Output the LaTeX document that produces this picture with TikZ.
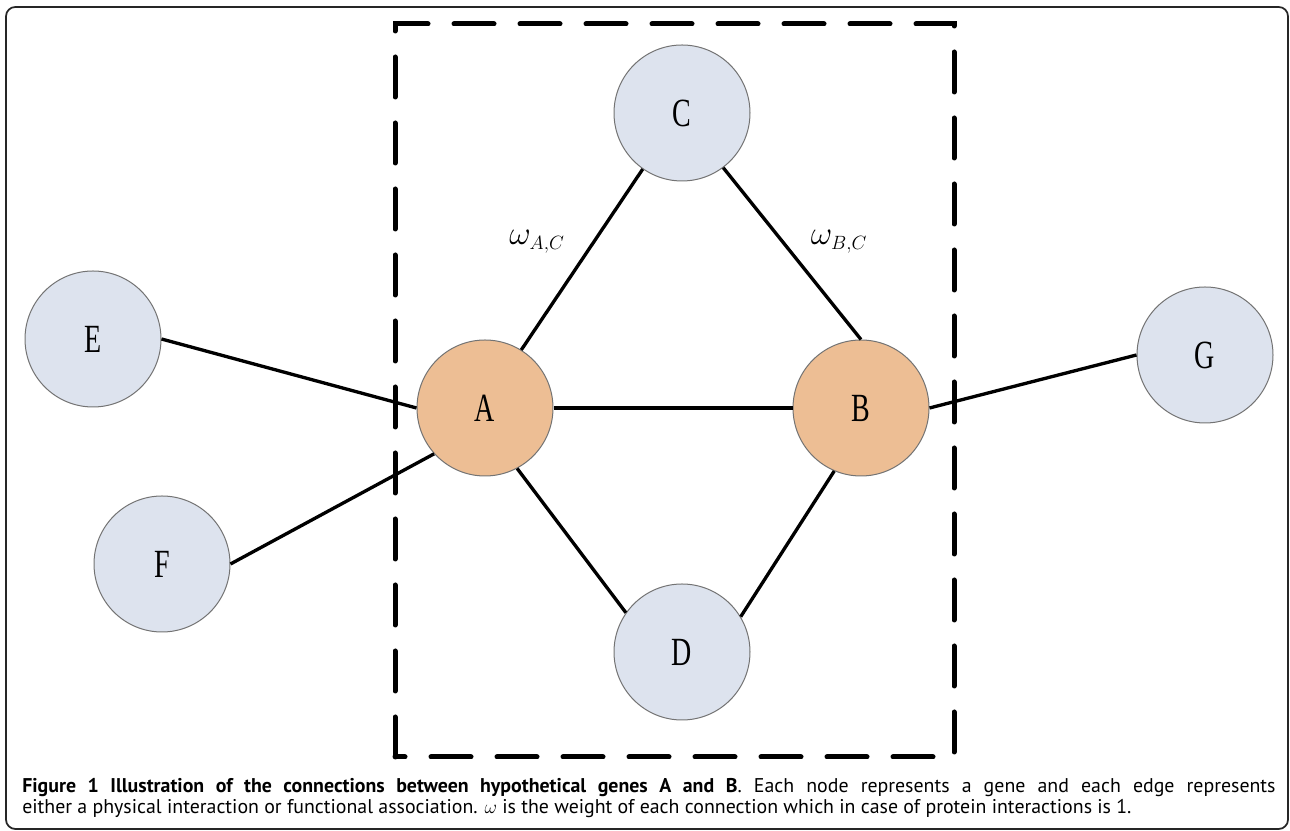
\documentclass[tikz,border=0pt]{standalone}
\usepackage{fontspec}
\setmainfont{Liberation Serif}
\newfontfamily\genefont[FakeStretch=0.7]{Liberation Serif}
\newfontfamily\capfont{PT Sans}
\usetikzlibrary{positioning}
\definecolor{geneblue}{RGB}{221,227,238}
\definecolor{geneorange}{RGB}{237,190,148}
\tikzset{gene/.style={circle,draw=black!55,line width=0.75pt,fill=geneblue,minimum size=102pt,inner sep=0pt,font=\genefont\fontsize{30}{30}\selectfont}}
\tikzset{pair/.style={gene,fill=geneorange}}
\tikzset{link/.style={line width=2.5pt}}
\tikzset{region/.style={line width=3.75pt,dash pattern=on 30pt off 19.5pt,line cap=round}}
\tikzset{weight/.style={font=\fontsize{27}{27}\selectfont}}
\def\w#1{\ensuremath{\omega_{\scriptscriptstyle #1}}}

\begin{document}
\begin{tikzpicture}[x=1pt,y=1pt,on grid]
        \useasboundingbox (0,0) rectangle (967.5,623.25);
        \draw[black!85,line width=1.3pt,rounded corners=7pt] (4.5,1.5) rectangle (966,618);
        \node[pair](A) at (363.75,317.25){A};
        \node[pair](B)[right=282pt of A]{B};
        \node[gene](C)[above right=221.25pt and 147.75pt of A]{C};
        \node[gene](D)[below right=183pt and 147.75pt of A]{D};
        \node[gene](E)[above left=51.75pt and 294pt of A]{E};
        \node[gene](F)[below left=117pt and 242.25pt of A]{F};
        \node[gene](G)[above right=39.75pt and 258pt of B]{G};
        \node[weight](wAC)[above right=124.5pt and 39pt of A]{\w{A,C}};
        \node[weight](wBC)[above left=124.5pt and 16.5pt of B]{\w{B,C}};
        \draw[link]
        (A.east) edge (B.west)
        (A.58) edge (C.235)
        (C.307) edge (B.north)
        (A.298) edge (D.145)
        (B.247) edge (D.31)
        (E.east) edge (A.west)
        (F.east) edge (A.222)
        (B.east) edge (G.west);
        \draw[region] (296.25,55.5) rectangle (715.5,605.25);
        \node(cap)[anchor=base west,text width=940pt,align=justify,inner sep=0pt,
          font=\capfont\fontsize{14.9}{15.5}\selectfont] at (16.5,28.7)
          {\textbf{Figure 1 Illustration of the connections between hypothetical genes A and B}. Each node represents a gene and each edge represents\linebreak either a physical interaction or functional association. $\omega$ is the weight of each connection which in case of protein interactions is 1.};
      \end{tikzpicture}
\end{document}
